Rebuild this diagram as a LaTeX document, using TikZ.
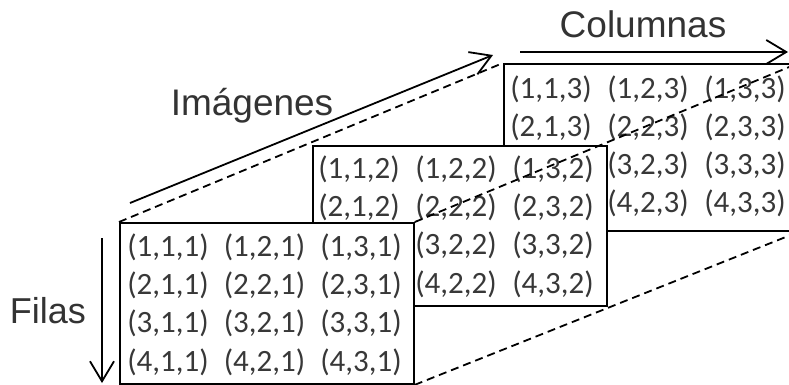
\documentclass[tikz,border=0pt]{standalone}
\usepackage{fontspec}
\setmainfont{Liberation Sans}
\newfontfamily\entryfont{Carlito}
\usetikzlibrary{arrows.meta,calc}
\begin{document}
\begin{tikzpicture}[x=1pt,y=-1pt,
  matbox/.style={draw=black, line width=1.8pt, fill=white, minimum width=294pt, anchor=north west, inner sep=0pt},
  entry/.style={font=\entryfont\fontsize{31}{37}\selectfont, text=black!78, inner sep=0pt},
  lbl/.style={font=\fontsize{37}{44}\selectfont, text=black!80, anchor=base, inner sep=0pt},
  axis/.style={line width=1.8pt, -{Straight Barb[length=20pt,width=24pt]}},
  guide/.style={line width=1.8pt, dash pattern=on 8pt off 5pt}]
\useasboundingbox (0,0) rectangle (789,384);
\clip (0,0) rectangle (789,384);

% boxes, back to front (entries hidden behind a front box are not drawn)
\node[matbox, minimum height=167pt] (b3) at (503,63) {};
\foreach \r/\c in {1/1,1/2,1/3,2/1,2/2,2/3,3/2,3/3,4/2,4/3} {
  \node[entry] (e3-\r-\c) at ($(b3.north west)+(48+97*\c-97,26+38*\r-38)$) {(\r,\c,3)};
}
\node[matbox, minimum height=160pt] (b2) at (312,145) {};
\foreach \r/\c in {1/1,1/2,1/3,2/1,2/2,2/3,3/2,3/3,4/2,4/3} {
  \node[entry] (e2-\r-\c) at ($(b2.north west)+(47+97*\c-97,24+38.3*\r-38.3)$) {(\r,\c,2)};
}
\node[matbox, minimum height=161pt] (b1) at (119,222) {};
\foreach \r in {1,...,4} \foreach \c in {1,2,3} {
  \node[entry] (e1-\r-\c) at ($(b1.north west)+(49+96.5*\c-96.5,25+38.3*\r-38.3)$) {(\r,\c,1)};
}

% guide lines
\draw[guide] (b1.north west) -- (b3.north west);
\draw[guide] (b1.north east) -- (b3.north east);
\draw[guide] (b1.south east) -- (b3.south east);

% axes
\coordinate (i0) at (130,203);
\coordinate (i1) at (493,55);
\coordinate (c0) at (520,52);
\coordinate (c1) at (788,52);
\coordinate (f0) at (102,238);
\coordinate (f1) at (102,383);
\draw[axis] (i0) -- (i1);
\draw[axis] (c0) -- (c1);
\draw[axis] (f0) -- (f1);

\node[lbl] (limg) at (252,115) {Imágenes};
\node[lbl] (lcol) at (643,37) {Columnas};
\node[lbl, font=\fontsize{36}{43}\selectfont] (lfil) at (48,323) {Filas};
\end{tikzpicture}
\end{document}
